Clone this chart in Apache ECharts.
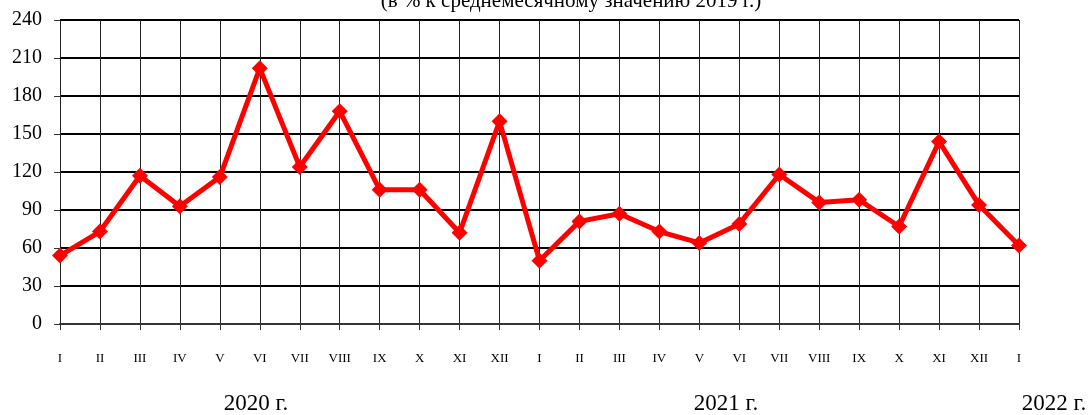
<!DOCTYPE html>
<html>
<head>
<meta charset="utf-8">
<script src="https://cdn.jsdelivr.net/npm/echarts@6/dist/echarts.min.js"></script>
<style>
  html, body { margin: 0; padding: 0; background: #fff; }
  #chart { width: 1091px; height: 415px; }
</style>
</head>
<body>
<div id="chart"></div>
<script>
// months, 2020-I .. 2022-I
const months = ['I', 'II', 'III', 'IV', 'V', 'VI', 'VII', 'VIII', 'IX', 'X', 'XI', 'XII',
  'I', 'II', 'III', 'IV', 'V', 'VI', 'VII', 'VIII', 'IX', 'X', 'XI', 'XII', 'I']
const values = [54, 73, 117, 93, 116, 202, 124, 168, 106, 106, 72, 160,
  50, 81, 87, 73, 64, 79, 118, 96, 98, 77, 144, 94, 62]
const yearLabels = ['2020 г.', '2021 г.', '2022 г.']
const yTicks = [0, 240, 30] // min, max, step

const serif = '"Liberation Serif", "Times New Roman", serif'

const chart = echarts.init(document.getElementById('chart'))

chart.setOption({
  animation: false,
  title: {
    text: '(в % к среднемесячному значению 2019 г.)',
    left: 571,
    top: -9,
    padding: 0,
    textAlign: 'center',
    textStyle: { fontFamily: serif, fontSize: 21, fontWeight: 'normal', color: '#000' }
  },
  grid: { left: 60, right: 72, top: 20, bottom: 91 },
  xAxis: {
    type: 'category',
    data: months,
    boundaryGap: false,
    axisLine: { lineStyle: { color: '#333', width: 2 } },
    axisTick: { length: 6, lineStyle: { color: '#333' } },
    axisLabel: { interval: 0, margin: 28, fontFamily: serif, fontSize: 13, color: '#000' },
    splitLine: { show: true, interval: 0, lineStyle: { color: '#222', width: 1 } }
  },
  yAxis: {
    type: 'value',
    min: yTicks[0],
    max: yTicks[1],
    interval: yTicks[2],
    axisLine: { show: false },
    axisTick: { show: true, length: 6, lineStyle: { color: '#333' } },
    axisLabel: { margin: 18, fontFamily: serif, fontSize: 20, color: '#000' },
    splitLine: { lineStyle: { color: '#000', width: 2 } }
  },
  graphic: [
    { type: 'text', x: 256, y: 404, style: { text: yearLabels[0], font: '23px ' + serif, fill: '#000', textAlign: 'center', textVerticalAlign: 'middle' } },
    { type: 'text', x: 726, y: 404, style: { text: yearLabels[1], font: '23px ' + serif, fill: '#000', textAlign: 'center', textVerticalAlign: 'middle' } },
    { type: 'text', x: 1054, y: 404, style: { text: yearLabels[2], font: '23px ' + serif, fill: '#000', textAlign: 'center', textVerticalAlign: 'middle' } }
  ],
  series: [{
    type: 'line',
    data: values,
    symbol: 'diamond',
    symbolSize: 16,
    lineStyle: { color: '#ff0000', width: 5 },
    itemStyle: { color: '#ff0000' }
  }]
})
</script>
</body>
</html>
